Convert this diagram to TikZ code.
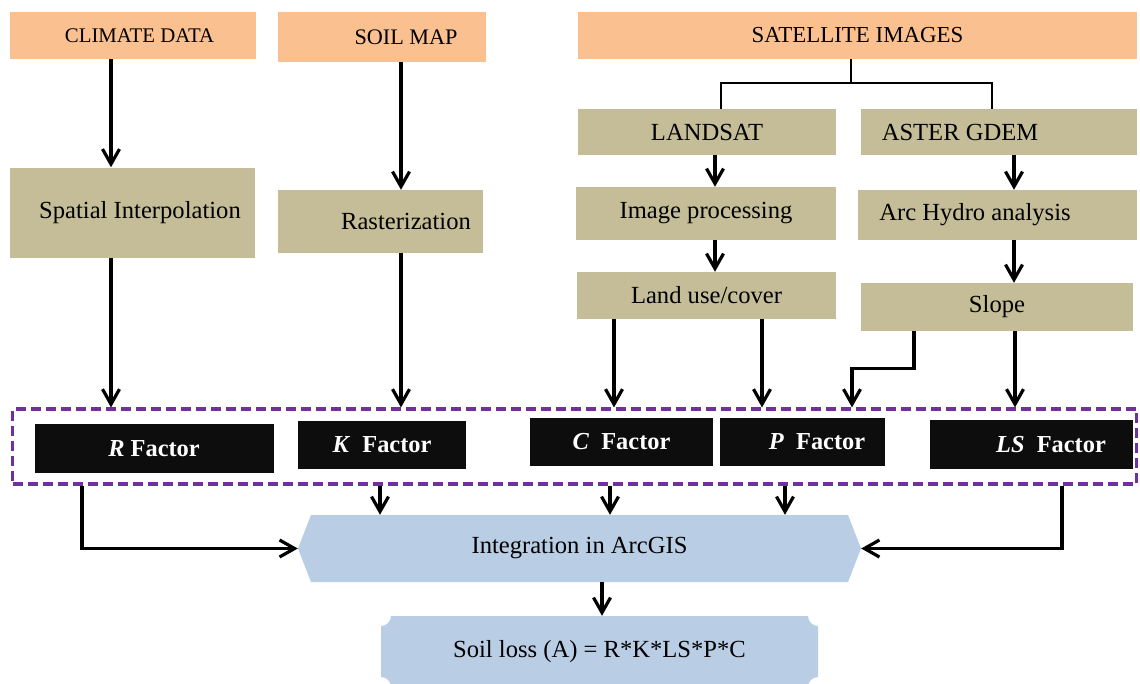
\documentclass[tikz,border=0pt]{standalone}
\usepackage{fontspec}
\setmainfont{Liberation Serif}
\usetikzlibrary{positioning}
\usetikzlibrary{arrows.meta}

\definecolor{srcorange}{HTML}{FAC090}
\definecolor{prockhaki}{HTML}{C4BD97}
\definecolor{outblue}{HTML}{B9CDE5}
\definecolor{grppurple}{HTML}{7030A0}
\definecolor{facblack}{HTML}{0D0D0D}

\tikzset{
  src/.style={fill=srcorange},
  proc/.style={fill=prockhaki},
  fac/.style={fill=facblack, text=white, font=\fontsize{24.4}{29}\selectfont\bfseries},
  arr/.style={-{Straight Barb[length=15pt,width=17pt]}, line width=3.2pt},
  tree/.style={line width=1.6pt}
}

\begin{document}
\begin{tikzpicture}[x=1pt, y=-1pt,
    every node/.style={inner sep=0pt, font=\fontsize{24.6}{29}\selectfont}]
  \useasboundingbox (0,0) rectangle (1140,683);

  % Fuentes de datos
  \node[src, minimum width=246pt, minimum height=47pt, font=\fontsize{20.8}{25}\selectfont] (climate) at (133,35.5) {\hspace*{13pt}CLIMATE DATA};
  \node[src, minimum width=208pt, minimum height=50pt, font=\fontsize{22.2}{27}\selectfont] (soilmap) at (382,37) {\hspace*{48pt}SOIL MAP};
  \node[src, minimum width=559pt, minimum height=47pt, font=\fontsize{22.9}{27}\selectfont] (sat) at (857.5,35.5) {SATELLITE IMAGES};

  % Procesos
  \node[proc, minimum width=245pt, minimum height=90pt] (spatial) at (132.5,212.5) {\hspace*{15pt}Spatial Interpolation};
  \node[proc, minimum width=205pt, minimum height=63pt] (raster) at (380.5,221.5) {\hspace*{51pt}Rasterization};
  \node[proc, minimum width=258pt, minimum height=46pt] (landsat) at (707,132) {LANDSAT};
  \node[proc, minimum width=276pt, minimum height=46pt] (aster) at (999,132) {ASTER GDEM\hspace*{78pt}};
  \node[proc, minimum width=260pt, minimum height=53pt] (imgproc) at (706,213.5) {Image processing};
  \node[proc, minimum width=279pt, minimum height=50pt] (archydro) at (997.5,215) {Arc Hydro analysis\hspace*{45pt}};
  \node[proc, minimum width=259pt, minimum height=47pt] (landuse) at (706.5,295.5) {Land use/cover};
  \node[proc, minimum width=272pt, minimum height=48pt] (slope) at (997,307) {Slope};

  % Factores
  \node[draw=grppurple, line width=3.2pt, dash pattern=on 10pt off 5pt, minimum width=1124pt, minimum height=75pt] (grp) at (574.5,446.5) {};
  \node[fac, minimum width=239pt, minimum height=49pt] (rfac) at (154,448.5) {\textit{R} Factor};
  \node[fac, minimum width=168pt, minimum height=48pt] (kfac) at (382,445) {\textit{K}\ \ Factor};
  \node[fac, minimum width=183pt, minimum height=48pt] (cfac) at (621.5,442) {\textit{C}\ \ Factor};
  \node[fac, minimum width=165pt, minimum height=48pt] (pfac) at (802.5,442) {\hspace*{29pt}\textit{P}\ \ Factor};
  \node[fac, minimum width=203pt, minimum height=49pt] (lsfac) at (1031.5,444.5) {\hspace*{39pt}\textit{LS}\ \ Factor};

  % Resultado
  \fill[outblue] (298,548.5) -- (311,515) -- (848,515) -- (861,548.5) -- (848,582) -- (311,582) -- cycle;
  \node[minimum width=563pt, minimum height=67pt] (integ) at (579.5,548.5) {Integration in ArcGIS};
  \fill[outblue] (381,626) arc[start angle=90, end angle=0, radius=10]
    -- (808,616) arc[start angle=180, end angle=90, radius=10]
    -- (818,677) arc[start angle=270, end angle=180, radius=10]
    -- (391,687) arc[start angle=0, end angle=-90, radius=10] -- cycle;
  \node[minimum width=437pt, minimum height=71pt] (loss) at (599.5,651.5) {Soil loss (A) = R*K*LS*P*C};

  % Flechas
  \coordinate (split) at (851,83);
  \draw[tree] (sat.south -| split) -- (split);
  \draw[tree] (landsat.north -| 721,0) |- (split) -| (aster.north -| 992,0);

  \draw[arr] (climate.south -| 111,0) -- (spatial.north -| 111,0);
  \draw[arr] (soilmap.south -| 401,0) -- (raster.north -| 401,0);
  \draw[arr] (landsat.south -| 715,0) -- (imgproc.north -| 715,0);
  \draw[arr] (imgproc.south -| 715,0) -- (landuse.north -| 715,0);
  \draw[arr] (aster.south -| 1014,0) -- (archydro.north -| 1014,0);
  \draw[arr] (archydro.south -| 1014,0) -- (slope.north -| 1014,0);

  \draw[arr] (spatial.south -| 111,0) -- (grp.north -| 111,0);
  \draw[arr] (raster.south -| 401,0) -- (grp.north -| 401,0);
  \draw[arr] (landuse.south -| 614,0) -- (grp.north -| 614,0);
  \draw[arr] (landuse.south -| 762,0) -- (grp.north -| 762,0);
  \draw[arr] (slope.south -| 914,0) -- ++(0,37) -| (grp.north -| 852,0);
  \draw[arr] (slope.south -| 1015,0) -- (grp.north -| 1015,0);

  \draw[arr] (grp.south -| 82,0) |- (integ.west);
  \draw[arr] (grp.south -| 380,0) -- (integ.north -| 380,0);
  \draw[arr] (grp.south -| 610,0) -- (integ.north -| 610,0);
  \draw[arr] (grp.south -| 785,0) -- (integ.north -| 785,0);
  \draw[arr] (grp.south -| 1062,0) |- (integ.east);
  \draw[arr] (integ.south -| 602,0) -- (loss.north -| 602,0);
\end{tikzpicture}
\end{document}
